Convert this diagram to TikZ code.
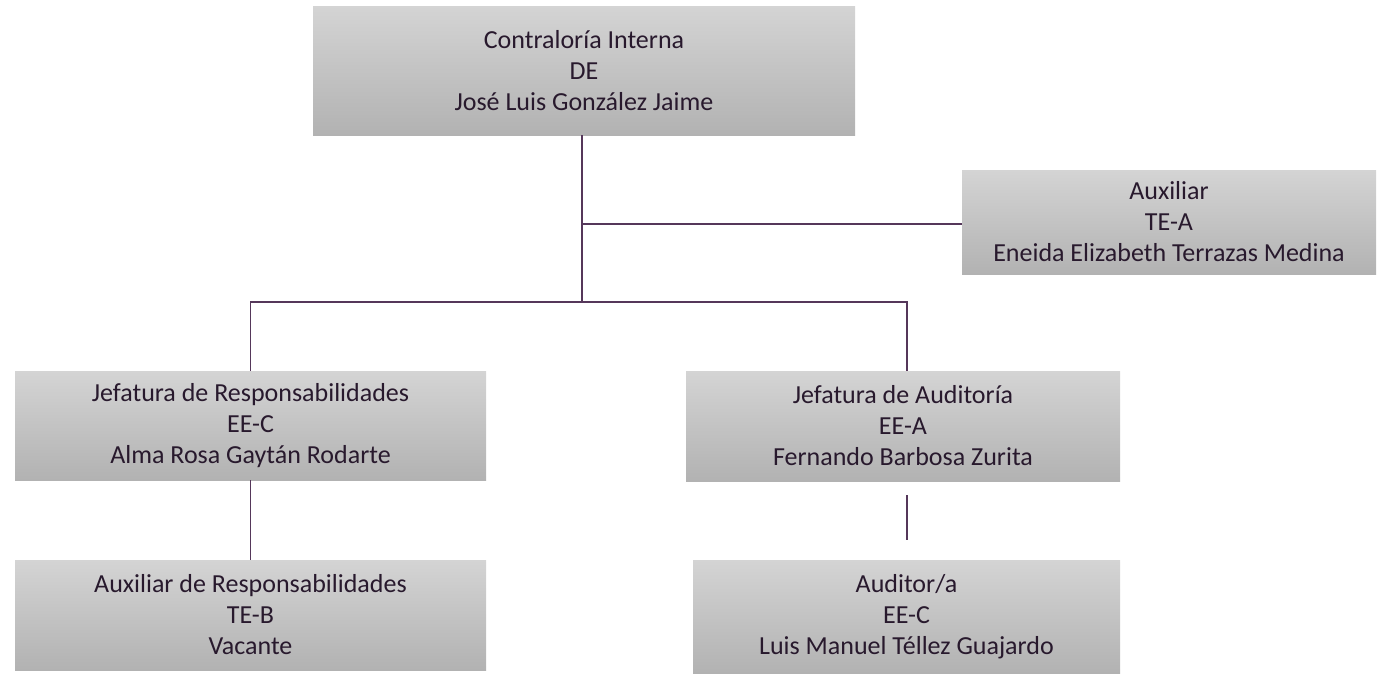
\documentclass[tikz,border=0pt]{standalone}
\usepackage{fontspec}
\setmainfont{Carlito}
\definecolor{txt}{RGB}{40,25,45}
\definecolor{ln}{RGB}{85,55,90}
\definecolor{boxtop}{RGB}{212,212,212}
\definecolor{boxbot}{RGB}{178,178,178}
\begin{document}
\begin{tikzpicture}[x=1pt,y=-1pt,
  orgbox/.style={rectangle, inner sep=0pt, top color=boxtop, bottom color=boxbot, draw=none,
    align=center, text=txt, font=\fontsize{26}{31}\selectfont},
  conn/.style={draw=ln, line width=1.5pt}]
\useasboundingbox (0,0) rectangle (1377,678);
\node[orgbox, minimum width=542, minimum height=129] (top) at (584,70.5)
  {Contraloría Interna\\DE\\José Luis González Jaime};
\node[orgbox, minimum width=414, minimum height=104] (aux) at (1169,222)
  {Auxiliar\\TE-A\\Eneida Elizabeth Terrazas Medina};
\node[orgbox, minimum width=471, minimum height=109] (jr) at (250.5,425.5)
  {Jefatura de Responsabilidades\\EE-C\\Alma Rosa Gaytán Rodarte};
\node[orgbox, minimum width=434, minimum height=110] (ja) at (903,426)
  {Jefatura de Auditoría\\EE-A\\Fernando Barbosa Zurita};
\node[orgbox, minimum width=471, minimum height=110] (ar) at (250.5,615)
  {Auxiliar de Responsabilidades\\TE-B\\Vacante};
\node[orgbox, minimum width=427, minimum height=113] (au) at (906.5,616.5)
  {Auditor/a\\EE-C\\Luis Manuel Téllez Guajardo};
\coordinate (j1) at (582,224);
\coordinate (j2) at (582,302);
\draw[conn] ([xshift=-2]top.south) -- (j2);
\draw[conn] (j1) -- (j1 -| aux.west);
\draw[conn] (jr.north) |- (j2);
\draw[conn] (j2) -| ([xshift=4]ja.north);
\draw[conn] (jr.south) -- (ar.north);
\draw[conn] ([xshift=4,yshift=-14]ja.south) -- ([xshift=0.5,yshift=20]au.north);
\end{tikzpicture}
\end{document}
